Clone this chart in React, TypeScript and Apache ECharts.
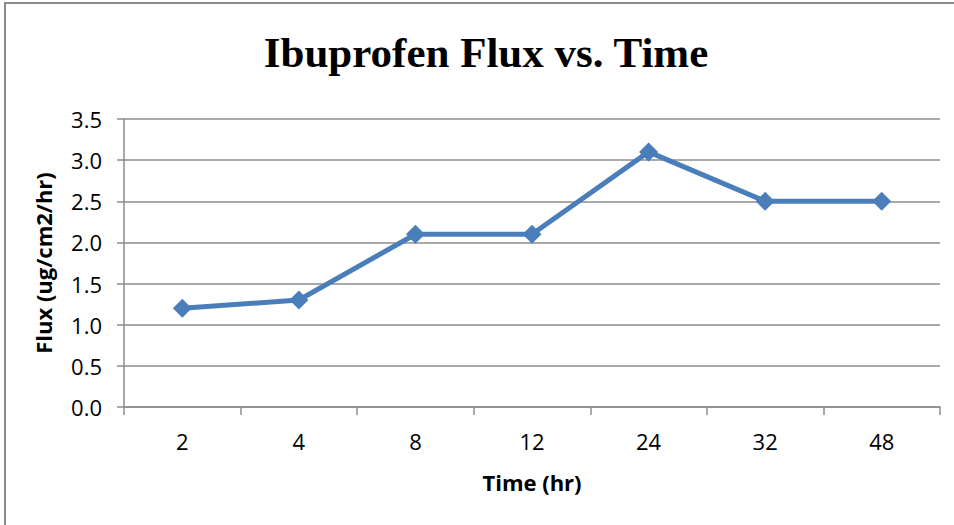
import React, { useEffect, useRef } from "react";
import * as echarts from "echarts";

const categories = ["2", "4", "8", "12", "24", "32", "48"];
const fluxValues = [1.2, 1.3, 2.1, 2.1, 3.1, 2.5, 2.5];
const titleText = "Ibuprofen Flux vs. Time";
const xName = "Time (hr)";
const yName = "Flux (ug/cm2/hr)";

export default function App() {
  const ref = useRef<HTMLDivElement>(null);
  useEffect(() => {
    if (!ref.current) return;
    const chart = echarts.init(ref.current, null, { renderer: "svg" });
    const labelFont = "'Open Sans', Lato, sans-serif";
    chart.setOption({
      animation: false,
      backgroundColor: "#ffffff",
      graphic: [
        {
          type: "rect",
          shape: { x: 5, y: 3, width: 1000, height: 600 },
          style: { fill: "none", stroke: "#8c8c8c", lineWidth: 2 },
          silent: true,
        },
      ],
      title: {
        text: titleText,
        left: 481,
        textAlign: "center",
        top: 26,
        textStyle: {
          fontFamily: "'Liberation Serif', 'Times New Roman', serif",
          fontWeight: "bold",
          fontSize: 43,
          color: "#000",
        },
      },
      grid: { left: 124, right: 14, top: 119, bottom: 118 },
      xAxis: {
        type: "category",
        data: categories,
        boundaryGap: true,
        name: xName,
        nameLocation: "middle",
        nameGap: 64,
        nameTextStyle: { fontFamily: labelFont, fontWeight: "bold", fontSize: 22, color: "#000" },
        axisLine: { lineStyle: { color: "#8c8c8c", width: 1.5 } },
        axisTick: { show: true, length: 8, inside: false, lineStyle: { color: "#8c8c8c", width: 1.5 } },
        axisLabel: { fontFamily: labelFont, fontSize: 22, color: "#000", margin: 23 },
      },
      yAxis: {
        type: "value",
        min: 0,
        max: 3.5,
        interval: 0.5,
        name: yName,
        nameLocation: "middle",
        nameGap: 70,
        nameTextStyle: { fontFamily: labelFont, fontWeight: "bold", fontSize: 22, color: "#000" },
        axisLine: { show: true, lineStyle: { color: "#8c8c8c", width: 1.5 } },
        axisTick: { show: true, length: 7, lineStyle: { color: "#8c8c8c", width: 1.5 } },
        axisLabel: {
          fontFamily: labelFont,
          fontSize: 22,
          color: "#000",
          margin: 22,
          formatter: (v: number) => v.toFixed(1),
        },
        splitLine: { lineStyle: { color: "#8c8c8c", width: 1.5 } },
      },
      series: [
        {
          type: "line",
          data: fluxValues,
          symbol: "diamond",
          symbolSize: 19,
          lineStyle: { color: "#4a7ebb", width: 5 },
          itemStyle: { color: "#4a7ebb" },
        },
      ],
    });
    return () => chart.dispose();
  }, []);
  return (
    <div
      ref={ref}
      style={{ position: "absolute", left: 0, top: 0, width: 954, height: 525 }}
    />
  );
}
